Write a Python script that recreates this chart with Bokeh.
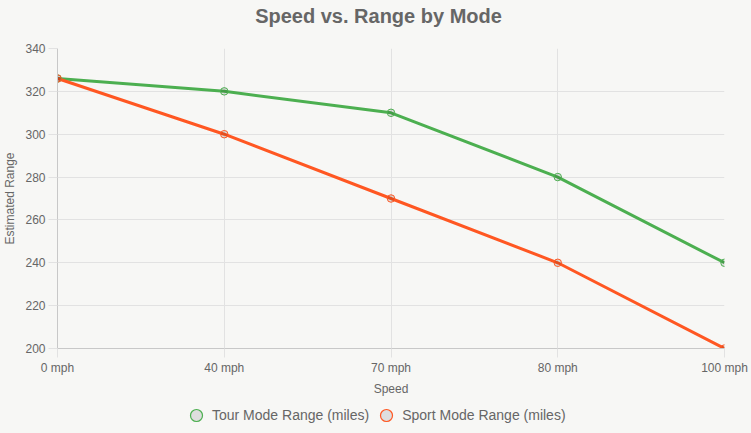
from bokeh.plotting import figure
from bokeh.layouts import column
from bokeh.models import Range1d, FixedTicker, Legend, LegendItem, ColumnDataSource, Label
from bokeh.embed import file_html
from bokeh.resources import INLINE

speeds = ["0 mph", "40 mph", "70 mph", "80 mph", "100 mph"]
tour_range = [326, 320, 310, 280, 240]
sport_range = [326, 300, 270, 240, 200]
y_ticks = [200, 220, 240, 260, 280, 300, 320, 340]
series_names = ["Tour Mode Range (miles)", "Sport Mode Range (miles)"]
title_text = "Speed vs. Range by Mode"

BG = "#f7f7f5"
GRID = "#e2e2e2"
TXT = "#666666"
GREEN = "#4caf50"
ORANGE = "#ff5722"
FONT = "Liberation Sans"
W = 751
LB, RB = 57, 27  # left / right borders shared by the stacked figures

# title strip (frame aligned with the chart frame; x in page pixels)
tf = figure(width=W, height=40, output_backend="svg", toolbar_location=None,
            x_range=Range1d(LB, W - RB), y_range=Range1d(0, 40),
            x_axis_type=None, y_axis_type=None,
            background_fill_color=BG, border_fill_color=BG, outline_line_color=None,
            min_border_left=LB, min_border_right=RB, min_border_top=0, min_border_bottom=0)
tf.grid.visible = False
tf.add_layout(Label(x=378, y=25, text=title_text, text_align="center",
                    text_baseline="alphabetic", text_font=FONT, text_font_size="20px",
                    text_font_style="bold", text_color=TXT))

xs = list(range(len(speeds)))
src = ColumnDataSource(dict(x=xs, tour=tour_range, sport=sport_range))

p = figure(width=W, height=358, output_backend="svg", toolbar_location=None,
           x_range=Range1d(0, len(speeds) - 1), y_range=Range1d(min(y_ticks), max(y_ticks)),
           background_fill_color=BG, border_fill_color=BG,
           min_border_left=LB, min_border_right=RB, min_border_top=8, min_border_bottom=50,
           outline_line_color=None)

p.xaxis.ticker = FixedTicker(ticks=xs)
p.xaxis.major_label_overrides = {i: s for i, s in enumerate(speeds)}
p.yaxis.ticker = FixedTicker(ticks=y_ticks)

for ax in (p.xaxis[0], p.yaxis[0]):
    ax.major_label_text_font = FONT
    ax.major_label_text_font_size = "12px"
    ax.major_label_text_color = TXT
    ax.axis_label_text_font = FONT
    ax.axis_label_text_font_size = "12px"
    ax.axis_label_text_font_style = "normal"
    ax.axis_label_text_color = TXT
    ax.axis_line_color = "#c8c8c8"
    ax.major_tick_line_color = GRID
    ax.major_tick_out = 9
    ax.major_tick_in = 0
    ax.minor_tick_line_color = None
    ax.major_label_standoff = 3

p.xaxis.axis_label = "Speed"
p.yaxis.axis_label = "Estimated Range"
p.xaxis.axis_label_standoff = 4
p.yaxis.axis_label_standoff = 5

p.xgrid.ticker = FixedTicker(ticks=xs)
p.ygrid.ticker = FixedTicker(ticks=y_ticks)
p.grid.grid_line_color = GRID

p.line("x", "tour", source=src, line_color=GREEN, line_width=3)
p.line("x", "sport", source=src, line_color=ORANGE, line_width=3)
p.scatter("x", "tour", source=src, size=7.5, line_color=GREEN, line_width=1,
          fill_color="black", fill_alpha=0.1)
p.scatter("x", "sport", source=src, size=7.5, line_color=ORANGE, line_width=1,
          fill_color="black", fill_alpha=0.1)

# legend strip below the chart
lf = figure(width=W, height=35, output_backend="svg", toolbar_location=None,
            x_range=Range1d(0, 1), y_range=Range1d(0, 1),
            x_axis_type=None, y_axis_type=None,
            background_fill_color=BG, border_fill_color=BG, outline_line_color=None,
            min_border_left=LB, min_border_right=RB, min_border_top=0, min_border_bottom=0)
lf.grid.visible = False
dummy = ColumnDataSource(dict(x=[-5], y=[-5]))
lt = lf.scatter("x", "y", source=dummy, size=12, line_color=GREEN, line_width=1.2,
                fill_color="#dedede")
ls = lf.scatter("x", "y", source=dummy, size=12, line_color=ORANGE, line_width=1.2,
                fill_color="#dedede")
legend = Legend(items=[LegendItem(label=series_names[0], renderers=[lt]),
                       LegendItem(label=series_names[1], renderers=[ls])],
                orientation="horizontal", location=(124, 3),
                background_fill_alpha=0, border_line_color=None,
                label_text_font=FONT, label_text_font_size="14px", label_text_color=TXT,
                glyph_width=30, glyph_height=30, spacing=2, padding=0, margin=0,
                label_standoff=1)
lf.add_layout(legend, "center")

layout = column(tf, p, lf, spacing=0, styles={"background-color": BG})
open("out.html", "w").write(file_html(layout, INLINE))
